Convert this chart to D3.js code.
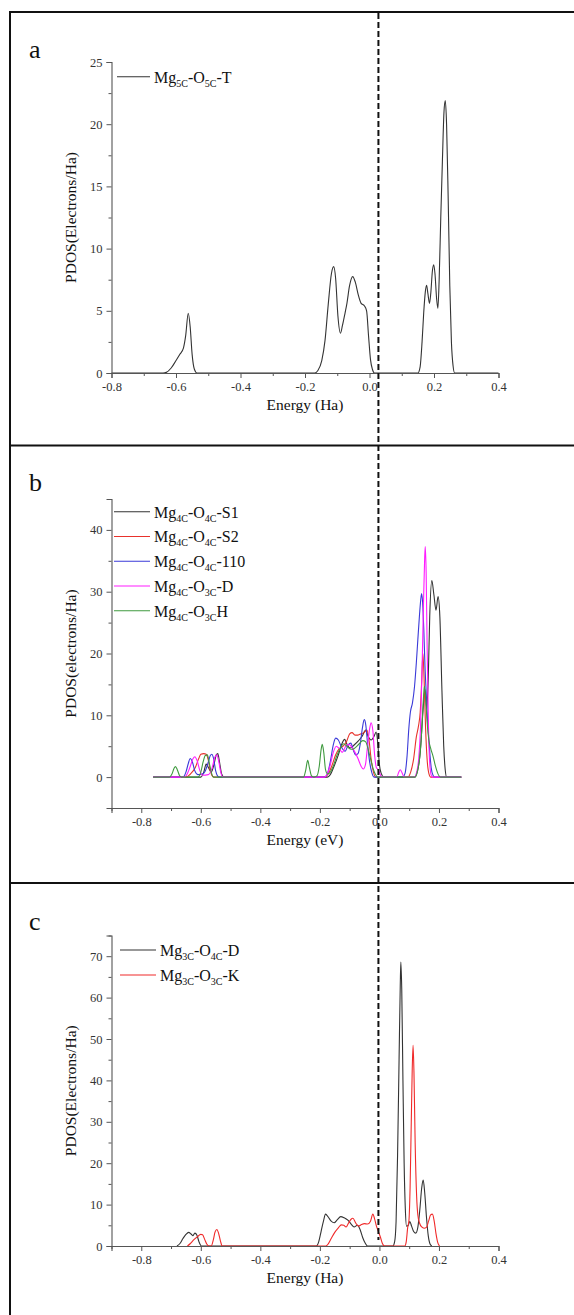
<!DOCTYPE html>
<html>
<head>
<meta charset="utf-8">
<script src="https://cdn.jsdelivr.net/npm/d3@7"></script>
<style>
  body { margin: 0; background: #fff; }
  svg { display: block; }
  text { font-family: "Liberation Serif", "Times New Roman", serif; }
</style>
</head>
<body>
<svg id="fig" width="574" height="1315"></svg>
<script>
// ---------- Panel a : Mg5C-O5C-T (energy in Ha, PDOS in electrons/Ha) ----------
const mg5cO5cT = [
  [-0.80,0],[-0.640,0],[-0.630,0.05],[-0.615,0.4],[-0.600,1.0],[-0.588,1.5],[-0.577,2.0],
  [-0.570,3.0],[-0.562,4.8],[-0.556,3.7],[-0.550,1.5],[-0.543,0.3],[-0.535,0],
  [-0.170,0],[-0.160,0.2],[-0.148,1.0],[-0.138,2.6],[-0.128,5.5],[-0.118,8.0],[-0.111,8.55],
  [-0.105,7.6],[-0.098,4.6],[-0.090,3.2],[-0.084,3.8],[-0.076,4.8],[-0.070,5.6],[-0.062,7.0],
  [-0.052,7.75],[-0.044,7.3],[-0.035,6.3],[-0.026,5.6],[-0.016,5.4],[-0.009,5.0],[-0.003,3.0],
  [0.003,1.1],[0.009,0.3],[0.015,0],
  [0.150,0],[0.157,0.5],[0.163,2.5],[0.168,4.8],[0.173,6.5],[0.177,7.05],[0.181,6.4],[0.186,5.6],
  [0.190,6.4],[0.195,8.2],[0.199,8.7],[0.203,8.0],[0.208,6.0],[0.212,5.2],[0.216,7.5],[0.221,12.5],
  [0.226,17.0],[0.231,21.0],[0.235,21.9],[0.239,20.0],[0.244,14.0],[0.249,7.0],[0.254,2.5],
  [0.259,0.6],[0.264,0],[0.40,0]
];

// ---------- Panel b : Mg4C surfaces (PDOS in electrons/Ha) ----------
const mg4cO4cS1 = [
  [-0.76,0],[-0.600,0],[-0.590,0.8],[-0.582,2.1],[-0.575,1.6],[-0.565,0.8],[-0.556,2.0],[-0.548,3.6],
  [-0.543,3.8],[-0.537,2.4],[-0.530,0.5],[-0.522,0],
  [-0.175,0],[-0.165,0.4],[-0.152,1.8],[-0.138,3.6],[-0.126,5.4],[-0.117,6.1],[-0.108,5.2],[-0.098,4.7],
  [-0.085,5.2],[-0.070,5.9],[-0.058,6.6],[-0.046,7.6],[-0.038,6.6],[-0.028,6.0],[-0.018,6.6],
  [-0.011,7.3],[-0.005,5.2],[0.000,2.0],[0.006,0.6],[0.015,0],
  [0.118,0],[0.128,1.0],[0.138,4.5],[0.146,10.5],[0.153,14.2],[0.159,11.0],[0.164,16.0],[0.169,26.0],
  [0.176,31.8],[0.183,29.5],[0.190,27.0],[0.197,29.2],[0.203,26.0],[0.210,14.0],[0.216,5.0],
  [0.221,1.2],[0.226,0],[0.275,0]
];
const mg4cO4cS2 = [
  [-0.76,0],[-0.650,0],[-0.635,0.5],[-0.618,1.6],[-0.607,3.0],[-0.600,3.7],[-0.590,3.8],[-0.582,3.7],
  [-0.575,2.8],[-0.568,1.0],[-0.560,0.1],[-0.555,0],
  [-0.185,0],[-0.172,0.5],[-0.160,1.8],[-0.148,3.5],[-0.135,4.6],[-0.122,5.0],[-0.110,5.8],[-0.100,7.0],
  [-0.092,7.2],[-0.082,6.8],[-0.072,6.8],[-0.062,7.0],[-0.052,7.2],[-0.042,7.6],[-0.035,6.0],
  [-0.028,3.0],[-0.020,0.8],[-0.012,0],
  [0.095,0],[0.105,0.8],[0.115,3.0],[0.124,6.5],[0.131,8.2],[0.137,10.5],[0.142,15.5],[0.146,20.0],
  [0.150,16.0],[0.155,8.0],[0.160,3.0],[0.166,0.6],[0.172,0],[0.275,0]
];
const mg4cO4c110 = [
  [-0.76,0],[-0.660,0],[-0.650,0.8],[-0.642,2.2],[-0.636,3.0],[-0.628,2.4],[-0.620,1.0],[-0.610,0.4],
  [-0.595,0.5],[-0.585,1.0],[-0.575,2.4],[-0.568,3.5],[-0.563,3.7],[-0.557,3.0],[-0.550,1.0],
  [-0.544,0.2],[-0.538,0],
  [-0.185,0],[-0.175,0.5],[-0.165,2.5],[-0.155,5.2],[-0.147,6.3],[-0.138,6.0],[-0.127,4.8],[-0.115,4.2],
  [-0.105,5.2],[-0.096,5.5],[-0.088,4.4],[-0.080,3.6],[-0.072,3.8],[-0.064,5.5],[-0.057,8.0],
  [-0.051,9.3],[-0.046,8.5],[-0.040,5.5],[-0.033,2.5],[-0.026,0.8],[-0.018,0],
  [0.078,0],[0.086,0.6],[0.093,3.5],[0.099,8.0],[0.104,10.5],[0.111,12.0],[0.118,14.7],[0.124,18.5],
  [0.129,22.2],[0.135,26.5],[0.140,29.2],[0.142,29.7],[0.146,27.5],[0.149,24.0],[0.153,18.0],
  [0.157,13.8],[0.162,9.0],[0.166,6.0],[0.170,3.5],[0.174,1.5],[0.180,0.3],[0.186,0],[0.275,0]
];
const mg4cO3cD = [
  [-0.76,0],[-0.655,0],[-0.645,0.6],[-0.635,1.8],[-0.626,3.0],[-0.620,3.3],[-0.612,2.6],[-0.603,1.0],
  [-0.594,0.3],[-0.575,0.4],[-0.562,1.5],[-0.553,3.2],[-0.546,3.6],[-0.540,2.6],[-0.533,0.8],[-0.526,0],
  [-0.185,0],[-0.175,0.5],[-0.165,2.0],[-0.155,4.0],[-0.145,5.0],[-0.135,4.6],[-0.125,4.0],[-0.113,5.0],
  [-0.102,5.3],[-0.092,4.8],[-0.082,4.0],[-0.072,3.0],[-0.062,1.8],[-0.054,1.3],[-0.047,2.0],
  [-0.040,5.0],[-0.033,7.8],[-0.028,8.8],[-0.022,7.5],[-0.016,3.5],[-0.010,1.5],[-0.004,1.2],
  [0.002,0.5],[0.008,0],
  [0.058,0],[0.065,0.8],[0.070,1.2],[0.076,0.7],[0.083,0],
  [0.118,0],[0.125,0.8],[0.132,3.0],[0.138,8.0],[0.143,17.0],[0.148,28.0],[0.152,35.5],[0.154,37.3],
  [0.157,33.0],[0.160,22.0],[0.164,10.0],[0.168,3.0],[0.173,0.5],[0.178,0],[0.275,0]
];
const mg4cO3cH = [
  [-0.76,0],[-0.705,0],[-0.697,0.5],[-0.690,1.4],[-0.685,1.7],[-0.679,1.2],[-0.672,0.3],[-0.665,0],
  [-0.610,0],[-0.600,0.8],[-0.592,2.5],[-0.585,3.5],[-0.578,3.6],[-0.572,2.4],[-0.565,0.8],[-0.558,0],
  [-0.255,0],[-0.248,1.0],[-0.241,2.7],[-0.235,1.5],[-0.228,0.2],[-0.220,0],[-0.210,0.2],[-0.202,1.8],
  [-0.196,4.4],[-0.192,5.3],[-0.187,4.0],[-0.181,1.2],[-0.174,0.5],[-0.165,0.8],[-0.155,1.8],
  [-0.143,3.5],[-0.130,4.8],[-0.120,5.4],[-0.110,5.0],[-0.100,4.6],[-0.090,4.5],[-0.080,4.8],
  [-0.068,5.4],[-0.056,5.9],[-0.046,5.7],[-0.038,4.5],[-0.030,3.0],[-0.022,1.5],[-0.014,0.5],[-0.006,0],
  [0.120,0],[0.128,1.0],[0.136,3.5],[0.142,7.5],[0.147,12.0],[0.151,14.7],[0.155,13.0],[0.160,9.0],
  [0.166,6.0],[0.173,4.5],[0.180,3.4],[0.188,1.8],[0.196,0.6],[0.205,0],[0.275,0]
];

// ---------- Panel c : Mg3C sites (PDOS in electrons/Ha) ----------
const mg3cO4cD = [
  [-0.680,0],[-0.670,0.6],[-0.660,1.8],[-0.650,2.8],[-0.641,3.3],[-0.633,2.9],[-0.627,2.5],[-0.620,3.1],
  [-0.613,2.6],[-0.606,1.0],[-0.598,0],
  [-0.212,0],[-0.204,1.0],[-0.196,3.5],[-0.188,6.0],[-0.181,7.7],[-0.172,7.0],[-0.162,6.0],[-0.152,5.6],
  [-0.142,6.3],[-0.130,7.1],[-0.118,6.8],[-0.105,6.2],[-0.095,5.3],[-0.085,4.6],[-0.074,5.0],
  [-0.065,4.0],[-0.056,2.0],[-0.047,0.6],[-0.040,0],
  [0.045,0],[0.051,1.0],[0.056,6.0],[0.061,22.0],[0.066,45.0],[0.070,63.0],[0.072,68.6],[0.075,62.0],
  [0.079,40.0],[0.083,20.0],[0.087,9.0],[0.091,4.8],[0.096,4.9],[0.102,5.9],[0.108,4.8],[0.115,3.5],
  [0.122,3.1],[0.129,4.5],[0.136,9.0],[0.142,14.0],[0.147,15.9],[0.152,13.0],[0.158,7.0],
  [0.164,2.5],[0.170,0.5],[0.176,0]
];
const mg3cO3cK = [
  [-0.645,0],[-0.635,0.6],[-0.625,1.4],[-0.612,2.2],[-0.600,2.8],[-0.594,2.7],[-0.587,1.6],[-0.580,0.5],
  [-0.573,0],[-0.565,0],[-0.558,1.5],[-0.552,3.4],[-0.546,4.0],[-0.540,3.0],[-0.534,1.2],[-0.528,0],
  [-0.180,0],[-0.172,0.5],[-0.162,1.8],[-0.150,3.3],[-0.138,4.4],[-0.128,5.1],[-0.120,5.0],[-0.112,4.6],
  [-0.104,5.5],[-0.096,6.4],[-0.089,6.7],[-0.080,5.6],[-0.070,4.8],[-0.060,5.2],[-0.050,5.4],
  [-0.040,5.3],[-0.030,6.0],[-0.022,7.7],[-0.016,6.5],[-0.010,4.8],[-0.004,3.6],[0.004,2.0],
  [0.010,0.6],[0.017,0],
  [0.085,0],[0.090,1.0],[0.095,4.5],[0.099,6.0],[0.103,14.0],[0.107,30.0],[0.110,42.0],[0.113,48.5],
  [0.116,42.0],[0.120,25.0],[0.125,12.0],[0.129,7.5],[0.135,5.5],[0.142,4.6],[0.150,4.3],[0.158,4.5],
  [0.165,6.0],[0.172,7.5],[0.178,7.7],[0.184,6.0],[0.190,3.0],[0.196,0.8],[0.202,0]
];

// ---------- Tick values ----------
const xTicksA = [-0.8, -0.6, -0.4, -0.2, 0, 0.2, 0.4];
const xMinorA = [-0.7, -0.5, -0.3, -0.1, 0.1, 0.3];
const xTicksBC = [-0.8, -0.6, -0.4, -0.2, 0, 0.2, 0.4];
const xMinorBC = [-0.9, -0.7, -0.5, -0.3, -0.1, 0.1, 0.3];
const yTicksA = [0, 5, 10, 15, 20, 25];
const yMinorA = [2.5, 7.5, 12.5, 17.5, 22.5];
const yTicksB = [0, 10, 20, 30, 40];
const yMinorB = [-5, 5, 15, 25, 35, 45];
const yTicksC = [0, 10, 20, 30, 40, 50, 60, 70];
const yMinorC = [5, 15, 25, 35, 45, 55, 65, 75];

// ---------- Legend names and colours ----------
const namesA = ["Mg_{5C}-O_{5C}-T"];
const namesB = ["Mg_{4C}-O_{4C}-S1", "Mg_{4C}-O_{4C}-S2", "Mg_{4C}-O_{4C}-110", "Mg_{4C}-O_{3C}-D", "Mg_{4C}-O_{3C}H"];
const namesC = ["Mg_{3C}-O_{4C}-D", "Mg_{3C}-O_{3C}-K"];
const coloursA = ["#333333"];
const coloursB = ["#333333", "#e8322c", "#3a3ad8", "#ff1cff", "#3f9a3f"];
const coloursC = ["#333333", "#f02a2a"];

const svg = d3.select("#fig");
const X0 = 111.5, X1 = 498.5;
const fmt = v => v.toFixed(1);
const SERIF = '"Liberation Serif","Times New Roman",serif';

function richText(sel, str, size, subSize) {
  const parts = str.split(/(_\{[^}]*\})/).filter(s => s.length);
  parts.forEach(p => {
    const m = p.match(/^_\{([^}]*)\}$/);
    if (m) {
      sel.append("tspan").attr("font-size", subSize).attr("dy", 4).text(m[1]);
    } else {
      const t = sel.append("tspan").attr("font-size", size).text(p);
      if (sel.node().childNodes.length > 1) t.attr("dy", -4);
    }
  });
}

function panel(cfg) {
  const x = d3.scaleLinear().domain(cfg.xDomain).range([X0, X1]);
  const y = d3.scaleLinear().domain(cfg.yDomain).range([cfg.yBottom, cfg.yTop]);
  const g = svg.append("g");

  // curves (drawn first so the axis line sits on top of the zero baseline)
  const line = d3.line().x(d => x(d[0])).y(d => y(d[1])).curve(d3.curveMonotoneX);
  cfg.series.forEach((s, i) => {
    g.append("path").datum(s).attr("fill", "none")
      .attr("stroke", cfg.colours[i]).attr("stroke-width", 1.1)
      .attr("stroke-linejoin", "round").attr("d", line);
  });

  // axes: major ticks with labels, minor ticks without
  g.append("g").attr("transform", `translate(0,${cfg.yBottom})`)
    .call(d3.axisBottom(x).tickValues(cfg.xTicks).tickSize(5).tickPadding(4).tickFormat(fmt));
  g.append("g").attr("transform", `translate(0,${cfg.yBottom})`)
    .call(d3.axisBottom(x).tickValues(cfg.xMinor).tickSize(3).tickFormat(""))
    .call(s => s.select(".domain").remove());
  g.append("g").attr("transform", `translate(${X0},0)`)
    .call(d3.axisLeft(y).tickValues(cfg.yTicks).tickSize(5).tickPadding(4).tickFormat(d3.format("d")));
  g.append("g").attr("transform", `translate(${X0},0)`)
    .call(d3.axisLeft(y).tickValues(cfg.yMinor).tickSize(3).tickFormat(""))
    .call(s => s.select(".domain").remove());
  g.selectAll(".domain").attr("stroke", "#555").attr("stroke-width", 1.1);
  g.selectAll(".tick line").attr("stroke", "#555");
  g.selectAll(".tick text").attr("fill", "#333").attr("font-size", 12.5).attr("font-family", SERIF);

  // legend
  cfg.names.forEach((n, i) => {
    const ly = cfg.legend.y0 + i * cfg.legend.dy;
    g.append("line").attr("x1", cfg.legend.x1).attr("x2", cfg.legend.x2)
      .attr("y1", ly).attr("y2", ly).attr("stroke", cfg.colours[i]).attr("stroke-width", 1.1);
    const t = g.append("text").attr("x", cfg.legend.x2 + 4).attr("y", ly + 6).attr("fill", "#111");
    richText(t, n, 16, 10);
  });

  // titles
  g.append("text").attr("x", (X0 + X1) / 2).attr("y", cfg.yBottom + 37)
    .attr("text-anchor", "middle").attr("font-size", 15.5).attr("fill", "#111").text(cfg.xTitle);
  g.append("text").attr("transform", `translate(76,${(cfg.yTop + cfg.yBottom) / 2}) rotate(-90)`)
    .attr("text-anchor", "middle").attr("font-size", 15.5).attr("fill", "#111").text(cfg.yTitle);
  g.append("text").attr("x", 29).attr("y", cfg.labelY).attr("font-size", 26).attr("fill", "#111").text(cfg.label);
  return x;
}

panel({
  label: "a", labelY: 58, xDomain: [-0.8, 0.4], yDomain: [0, 25], yTop: 62, yBottom: 373,
  xTicks: xTicksA, xMinor: xMinorA, yTicks: yTicksA, yMinor: yMinorA,
  series: [mg5cO5cT], colours: coloursA, names: namesA,
  legend: { x1: 117, x2: 150, y0: 76.7, dy: 25 },
  xTitle: "Energy (Ha)", yTitle: "PDOS(Electrons/Ha)"
});
const xB = panel({
  label: "b", labelY: 491, xDomain: [-0.9, 0.4], yDomain: [-5, 45], yTop: 499, yBottom: 808,
  xTicks: xTicksBC, xMinor: xMinorBC, yTicks: yTicksB, yMinor: yMinorB,
  series: [mg4cO4cS1, mg4cO4cS2, mg4cO4c110, mg4cO3cD, mg4cO3cH], colours: coloursB, names: namesB,
  legend: { x1: 114, x2: 150, y0: 511.7, dy: 24.75 },
  xTitle: "Energy (eV)", yTitle: "PDOS(electrons/Ha)"
});
panel({
  label: "c", labelY: 930, xDomain: [-0.9, 0.4], yDomain: [0, 75], yTop: 935.5, yBottom: 1246,
  xTicks: xTicksBC, xMinor: xMinorBC, yTicks: yTicksC, yMinor: yMinorC,
  series: [mg3cO4cD, mg3cO3cK], colours: coloursC, names: namesC,
  legend: { x1: 120, x2: 156, y0: 950, dy: 25 },
  xTitle: "Energy (Ha)", yTitle: "PDOS(Electrons/Ha)"
});

// frame around the three panels
const frame = svg.append("g").attr("stroke", "#111").attr("stroke-width", 2).attr("fill", "none");
frame.append("line").attr("x1", 10).attr("x2", 574).attr("y1", 12).attr("y2", 12);
frame.append("line").attr("x1", 10).attr("x2", 10).attr("y1", 11).attr("y2", 1315);
frame.append("line").attr("x1", 10).attr("x2", 574).attr("y1", 445.5).attr("y2", 445.5);
frame.append("line").attr("x1", 10).attr("x2", 574).attr("y1", 883).attr("y2", 883);

// Fermi level marker running through all panels
svg.append("line").attr("x1", xB(0) - 1).attr("x2", xB(0) - 1).attr("y1", 13).attr("y2", 1240)
  .attr("stroke", "#111").attr("stroke-width", 2).attr("stroke-dasharray", "6,3");
</script>
</body>
</html>
